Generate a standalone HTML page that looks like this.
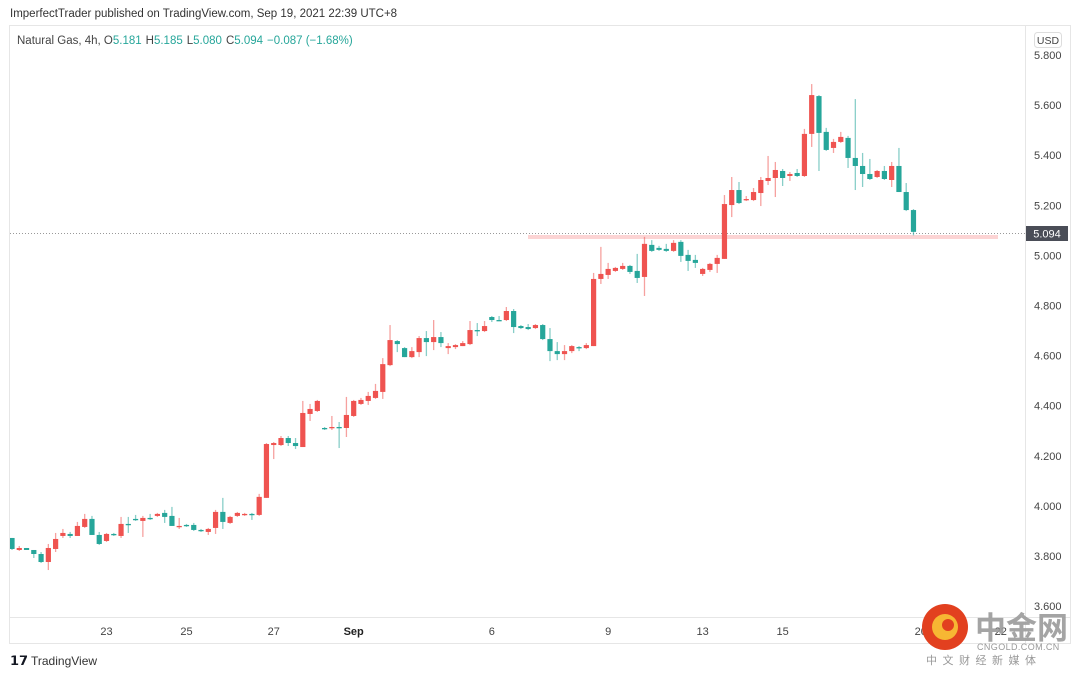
<!DOCTYPE html>
<html><head><meta charset="utf-8"><style>
body{margin:0;background:#fff;width:1080px;height:676px;overflow:hidden;font-family:"Liberation Sans","Noto Sans CJK SC",sans-serif}
svg text{font-family:"Liberation Sans","Noto Sans CJK SC",sans-serif}
</style></head><body>
<svg id="chart" width="1080" height="676">
<defs><clipPath id="plotclip"><rect x="10" y="26" width="1015" height="591"/></clipPath></defs>
<text x="10" y="17" font-size="11.5" fill="#333">ImperfectTrader published on TradingView.com, Sep 19, 2021 22:39 UTC+8</text>
<rect x="9.5" y="25.5" width="1061" height="618" fill="none" stroke="#e6e6e6"/>
<line x1="1025.5" y1="26" x2="1025.5" y2="643" stroke="#e6e6e6"/>
<line x1="10" y1="617.5" x2="1070" y2="617.5" stroke="#e6e6e6"/>
<text x="17" y="44" font-size="11.5" fill="#444">Natural Gas, 4h, O<tspan fill="#26a69a">5.181</tspan><tspan dx="4">H</tspan><tspan fill="#26a69a">5.185</tspan><tspan dx="4">L</tspan><tspan fill="#26a69a">5.080</tspan><tspan dx="4">C</tspan><tspan fill="#26a69a">5.094</tspan><tspan dx="4" fill="#26a69a">−0.087 (−1.68%)</tspan></text>
<rect x="1034.5" y="32.5" width="27" height="15" rx="3" fill="#fff" stroke="#ddd"/>
<text x="1048" y="44" font-size="10.5" fill="#444" text-anchor="middle">USD</text>
<g id="yax"></g><g id="xax"></g>
<rect x="528" y="235" width="470" height="4" fill="#fcd4d4"/>
<line x1="10" y1="233.5" x2="1025" y2="233.5" stroke="#999" stroke-dasharray="1,2"/>
<g id="candles" clip-path="url(#plotclip)"></g>
<rect x="1026" y="226" width="42" height="15" fill="#4a4d57"/>
<text x="1047" y="237.5" font-size="11" fill="#fff" text-anchor="middle">5.094</text>
<g>
<text x="10" y="665" font-size="13" font-weight="bold" fill="#131722">𝟭𝟳</text>
<text x="31" y="665" font-size="12" fill="#333">TradingView</text></g>
<g>
<circle cx="945" cy="627" r="23" fill="#e2401f"/>
<circle cx="945" cy="627" r="13" fill="#f7b733"/>
<circle cx="948" cy="625" r="6" fill="#e2401f"/>
<text x="975" y="639" font-size="31" font-weight="bold" fill="#9a9a9a" fill-opacity="0.9">中金网</text>
<text x="977" y="650" font-size="9" fill="#999" letter-spacing="0.4">CNGOLD.COM.CN</text>
<text x="926" y="664" font-size="11" fill="#999" letter-spacing="5.5">中文财经新媒体</text></g>
</svg>
<script>
const yTicks=[5.8,5.6,5.4,5.2,5.0,4.8,4.6,4.4,4.2,4.0,3.8,3.6];
const xLabels=["23","25","27","Sep","6","9","13","15","20","22"];
const xLabelIdx=[13,24,36,47,66,82,95,106,125,136];
const opens=[3.872,3.824,3.832,3.824,3.808,3.776,3.828,3.880,3.888,3.880,3.916,3.948,3.884,3.860,3.888,3.880,3.928,3.948,3.940,3.952,3.960,3.972,3.960,3.916,3.924,3.924,3.904,3.896,3.912,3.976,3.932,3.960,3.964,3.968,3.964,4.032,4.243,4.243,4.271,4.251,4.235,4.367,4.379,4.311,4.311,4.315,4.311,4.359,4.407,4.419,4.431,4.455,4.562,4.658,4.630,4.594,4.614,4.670,4.654,4.674,4.630,4.634,4.638,4.646,4.702,4.698,4.754,4.742,4.742,4.778,4.718,4.714,4.710,4.722,4.666,4.618,4.606,4.618,4.634,4.630,4.638,4.906,4.922,4.938,4.946,4.958,4.938,4.914,5.042,5.030,5.026,5.018,5.054,5.002,4.982,4.926,4.942,4.966,4.986,5.201,5.261,5.221,5.221,5.249,5.297,5.309,5.337,5.317,5.329,5.317,5.485,5.636,5.493,5.429,5.453,5.469,5.389,5.357,5.325,5.313,5.337,5.301,5.357,5.253,5.181];
const highs=[3.872,3.840,3.832,3.824,3.816,3.848,3.892,3.908,3.896,3.936,3.968,3.960,3.896,3.892,3.892,3.956,3.956,3.964,3.960,3.968,3.972,3.984,3.996,3.952,3.928,3.932,3.908,3.912,3.984,4.032,3.960,3.976,3.972,3.972,4.048,4.251,4.255,4.279,4.279,4.271,4.419,4.407,4.423,4.315,4.359,4.335,4.435,4.423,4.431,4.455,4.487,4.590,4.722,4.662,4.634,4.634,4.678,4.698,4.742,4.694,4.650,4.646,4.658,4.738,4.730,4.738,4.758,4.758,4.794,4.786,4.722,4.726,4.726,4.726,4.710,4.654,4.642,4.642,4.638,4.650,4.930,5.034,4.970,4.954,4.970,4.962,5.006,5.074,5.061,5.038,5.046,5.061,5.061,5.022,5.002,4.950,4.970,5.002,5.241,5.313,5.293,5.237,5.269,5.313,5.397,5.373,5.345,5.333,5.345,5.505,5.684,5.640,5.509,5.465,5.493,5.477,5.624,5.409,5.385,5.341,5.357,5.373,5.429,5.289,5.185];
const lows=[3.824,3.820,3.824,3.792,3.772,3.744,3.816,3.872,3.872,3.880,3.912,3.884,3.844,3.856,3.880,3.872,3.892,3.940,3.876,3.944,3.956,3.932,3.920,3.908,3.916,3.900,3.896,3.884,3.888,3.908,3.928,3.956,3.960,3.944,3.960,4.032,4.187,4.239,4.239,4.227,4.235,4.339,4.375,4.303,4.303,4.231,4.275,4.355,4.403,4.403,4.427,4.427,4.558,4.614,4.594,4.590,4.594,4.598,4.622,4.634,4.606,4.626,4.638,4.642,4.678,4.694,4.734,4.738,4.738,4.690,4.706,4.702,4.706,4.662,4.578,4.582,4.582,4.610,4.618,4.626,4.638,4.886,4.906,4.934,4.942,4.926,4.890,4.838,5.014,5.018,5.014,5.014,4.974,4.938,4.950,4.918,4.934,4.930,4.986,5.153,5.205,5.217,5.217,5.197,5.281,5.233,5.277,5.297,5.313,5.313,5.433,5.337,5.417,5.409,5.449,5.349,5.261,5.273,5.301,5.309,5.301,5.273,5.253,5.177,5.080];
const closes=[3.828,3.832,3.824,3.808,3.776,3.832,3.868,3.892,3.880,3.920,3.948,3.884,3.848,3.888,3.884,3.928,3.924,3.944,3.952,3.948,3.968,3.956,3.920,3.920,3.920,3.904,3.900,3.908,3.976,3.936,3.956,3.972,3.968,3.964,4.036,4.247,4.251,4.271,4.251,4.239,4.371,4.387,4.419,4.307,4.315,4.311,4.363,4.419,4.423,4.439,4.459,4.566,4.662,4.646,4.594,4.618,4.670,4.654,4.674,4.650,4.638,4.642,4.650,4.702,4.698,4.718,4.742,4.738,4.778,4.714,4.710,4.706,4.722,4.666,4.618,4.606,4.618,4.638,4.630,4.642,4.906,4.926,4.946,4.950,4.958,4.934,4.910,5.046,5.018,5.022,5.018,5.050,4.998,4.978,4.970,4.946,4.966,4.990,5.205,5.261,5.209,5.225,5.253,5.301,5.309,5.341,5.309,5.325,5.317,5.485,5.640,5.489,5.421,5.453,5.473,5.389,5.357,5.325,5.305,5.337,5.305,5.357,5.253,5.181,5.094];
const NS='http://www.w3.org/2000/svg';
function yS(p){return 55+(5.8-p)*250.5;}
function xS(i){return 12+i*7.27;}
function mk(t,a,parent){const e=document.createElementNS(NS,t);for(const k in a)e.setAttribute(k,a[k]);parent.appendChild(e);return e;}
const yax=document.getElementById('yax');
yTicks.forEach(v=>{const t=mk('text',{x:1034,y:yS(v)+4,'font-size':11,fill:'#444'},yax);


t.textContent=v.toFixed(3);});
const xax=document.getElementById('xax');
xLabels.forEach((l,k)=>{const t=mk('text',{x:xS(xLabelIdx[k]),y:635,'font-size':11,fill:l==='Sep'?'#222':'#444','font-weight':l==='Sep'?'bold':'normal','text-anchor':'middle'},xax);


t.textContent=l;});
const cg=document.getElementById('candles');
opens.forEach((o,i)=>{const c=closes[i];const up=c>=o;const col=up?'#ef5350':'#26a69a';const x=xS(i);
const g=mk('g',{},cg);


mk('line',{x1:x,x2:x,y1:yS(highs[i]),y2:yS(lows[i]),stroke:col,'stroke-opacity':0.55,'stroke-width':1.3},g);
const t=yS(Math.max(o,c)),b=yS(Math.min(o,c));
mk('rect',{x:x-2.6,y:t,width:5.2,height:Math.max(1.3,b-t),fill:col},g);});
</script>
</body></html>
